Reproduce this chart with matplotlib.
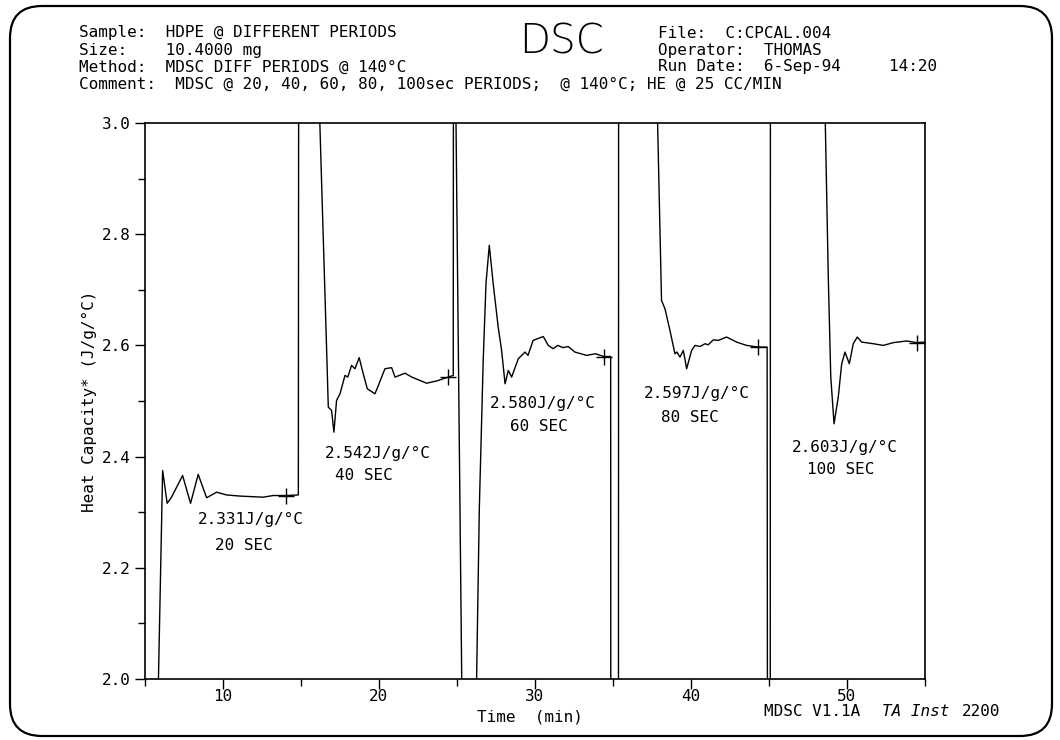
import numpy as np
import matplotlib
matplotlib.use('Agg')
import matplotlib.pyplot as plt
from matplotlib.patches import FancyBboxPatch
from matplotlib.ticker import MultipleLocator, FormatStrFormatter

# trace (values > 3.0 or < 2.0 are off scale)
time_min = [
    5.79, 6.13, 6.42, 6.70, 7.41, 7.92, 8.41, 8.95, 9.59, 10.23, 11.09, 12.58,
    13.22, 14.04, 14.83, 14.85,
    16.10, 16.63, 16.75, 16.96, 17.11, 17.28, 17.50, 17.82, 18.00, 18.24, 18.46,
    18.73, 18.99, 19.25, 19.74, 19.96, 20.38, 20.81, 21.03, 21.67, 22.10, 23.05,
    23.69, 24.44, 24.76, 24.77, 24.90, 25.34,
    26.20, 26.43, 26.68, 26.86, 27.07, 27.32, 27.64, 27.86, 28.08, 28.29, 28.50,
    28.93, 29.36, 29.55, 29.88, 30.53, 30.85, 31.17, 31.45, 31.80, 32.13, 32.56,
    33.31, 33.88, 34.42, 34.85, 34.86, 35.35, 35.36,
    37.78, 38.11, 38.33, 38.65, 38.97, 39.10, 39.29, 39.51, 39.72, 40.04, 40.26,
    40.58, 40.90, 41.10, 41.43, 41.75, 42.28, 42.92, 43.56, 44.31, 44.88, 44.90,
    45.08, 45.09,
    48.54, 48.80, 48.96, 49.17, 49.44, 49.66, 49.87, 50.15, 50.40, 50.66, 50.94,
    51.69, 52.33, 52.97, 53.83, 54.46, 55.00,
]
heat_cap = [
    1.90, 2.375, 2.316, 2.327, 2.366, 2.316, 2.368, 2.326, 2.336, 2.331, 2.329, 2.327,
    2.330, 2.330, 2.331, 3.10,
    3.10, 2.604, 2.489, 2.483, 2.444, 2.501, 2.513, 2.546, 2.543, 2.564, 2.558,
    2.578, 2.549, 2.522, 2.513, 2.528, 2.558, 2.560, 2.543, 2.550, 2.543, 2.532,
    2.536, 2.543, 2.546, 3.10, 3.10, 1.90,
    1.90, 2.306, 2.573, 2.712, 2.780, 2.711, 2.633, 2.591, 2.531, 2.555, 2.543,
    2.576, 2.588, 2.582, 2.609, 2.616, 2.600, 2.594, 2.600, 2.596, 2.598, 2.588,
    2.582, 2.585, 2.580, 2.580, 1.90, 1.90, 3.10,
    3.10, 2.681, 2.666, 2.627, 2.585, 2.588, 2.579, 2.591, 2.558, 2.591, 2.600,
    2.598, 2.603, 2.601, 2.610, 2.609, 2.615, 2.606, 2.600, 2.597, 2.597, 1.90,
    1.90, 3.10,
    3.10, 2.723, 2.543, 2.459, 2.507, 2.567, 2.588, 2.567, 2.603, 2.615, 2.606,
    2.603, 2.600, 2.605, 2.608, 2.605, 2.606,
]

# cursor marks and results
mark_t = [14.04, 24.44, 34.42, 44.31, 54.46]
mark_cp = [2.330, 2.543, 2.580, 2.597, 2.605]
result_lbl = ['2.331J/g/°C', '2.542J/g/°C', '2.580J/g/°C', '2.597J/g/°C', '2.603J/g/°C']
period_lbl = ['20 SEC', '40 SEC', '60 SEC', '80 SEC', '100 SEC']
result_xy = [(8.40, 2.286), (16.54, 2.406), (27.12, 2.495), (36.99, 2.514), (46.47, 2.417)]
period_xy = [(9.49, 2.240), (17.18, 2.366), (28.40, 2.454), (38.08, 2.471), (47.44, 2.377)]

header_left = [
    'Sample:  HDPE @ DIFFERENT PERIODS',
    'Size:    10.4000 mg',
    'Method:  MDSC DIFF PERIODS @ 140°C',
    'Comment:  MDSC @ 20, 40, 60, 80, 100sec PERIODS;  @ 140°C; HE @ 25 CC/MIN',
]
header_right = [
    'File:  C:CPCAL.004',
    'Operator:  THOMAS',
    'Run Date:  6-Sep-94     14:20',
]

MONO = 'DejaVu Sans Mono'
W, H = 1060, 740

fig = plt.figure(figsize=(10.6, 7.4), dpi=100)
ax = fig.add_axes([145 / W, 1 - 679 / H, (925 - 145) / W, (679 - 123) / H])

ax.plot(time_min, heat_cap, color='k', lw=1.0)
ax.plot(mark_t, mark_cp, '+', color='k', ms=11, mew=1.0)

for txt, (x, y) in zip(result_lbl, result_xy):
    ax.text(x, y, txt, family=MONO, fontsize=11.5, ha='left', va='center')
for txt, (x, y) in zip(period_lbl, period_xy):
    ax.text(x, y, txt, family=MONO, fontsize=11.5, ha='left', va='center')

ax.set_xlim(5, 55)
ax.set_ylim(2.0, 3.0)
ax.xaxis.set_major_locator(MultipleLocator(10))
ax.xaxis.set_minor_locator(MultipleLocator(5))
ax.yaxis.set_major_locator(MultipleLocator(0.2))
ax.yaxis.set_minor_locator(MultipleLocator(0.1))
ax.yaxis.set_major_formatter(FormatStrFormatter('%.1f'))
ax.tick_params(which='both', direction='out', width=1.0, labelsize=11.5)
ax.tick_params(which='major', length=7)
ax.tick_params(which='minor', length=5)
ax.tick_params(axis='x', pad=0)
ax.tick_params(axis='y', pad=3)
for lab in ax.get_xticklabels() + ax.get_yticklabels():
    lab.set_family(MONO)
for sp in ax.spines.values():
    sp.set_linewidth(1.2)

ax.set_ylabel('Heat Capacity* (J/g/°C)', family=MONO, fontsize=11.5, labelpad=4)
fig.text(530 / W, 1 - 717 / H, 'Time  (min)', family=MONO, fontsize=11.5,
         ha='center', va='center')

# header block
rows = [33, 50, 67, 84]
for txt, py in zip(header_left, rows):
    fig.text(79 / W, 1 - py / H, txt, family=MONO, fontsize=11.5, ha='left', va='center')
for txt, py in zip(header_right, rows):
    fig.text(658 / W, 1 - py / H, txt, family=MONO, fontsize=11.5, ha='left', va='center')
fig.text(562 / W, 1 - 42 / H, 'DSC', family='DejaVu Sans', fontweight='ultralight',
         fontsize=29, ha='center', va='center')

# footer
fig.text(764 / W, 1 - 711 / H, 'MDSC V1.1A', family=MONO, fontsize=11.5, ha='left', va='center')
fig.text(882 / W, 1 - 711 / H, 'TA Inst', family=MONO, style='italic', fontsize=11.5,
         ha='left', va='center')
fig.text(962 / W, 1 - 711 / H, '2200', family=MONO, fontsize=11.5, ha='left', va='center')

# rounded page frame
frame = FancyBboxPatch((0.10, 0.04), 10.42, 7.30,
                       boxstyle='round,pad=0,rounding_size=0.32',
                       transform=fig.dpi_scale_trans, fill=False,
                       lw=1.6, ec='k')
fig.patches.append(frame)

fig.savefig('out.png', dpi=100)
